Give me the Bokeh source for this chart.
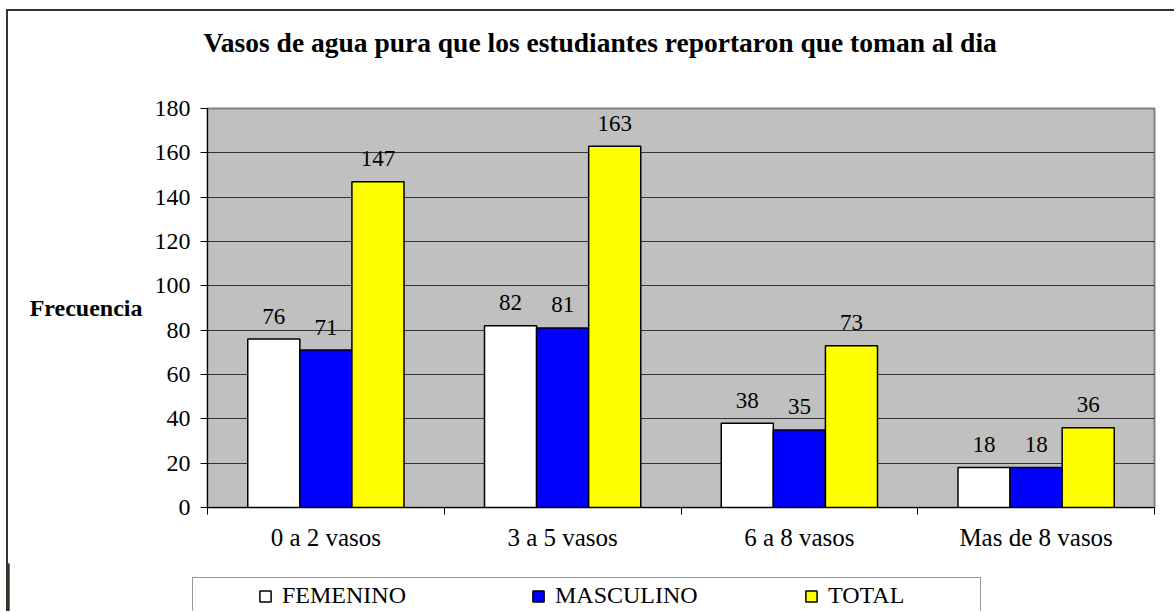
from bokeh.plotting import figure
from bokeh.models import (ColumnDataSource, FixedTicker, Legend, LegendItem, Title, Range1d,
                          LinearAxis)
from bokeh.layouts import column
from bokeh.embed import file_html
from bokeh.resources import INLINE
from bokeh.core.properties import value

# ---- data ----
categories = ["0 a 2 vasos", "3 a 5 vasos", "6 a 8 vasos", "Mas de 8 vasos"]
femenino = [76, 82, 38, 18]
masculino = [71, 81, 35, 18]
total = [147, 163, 73, 36]
series_names = ["FEMENINO", "MASCULINO", "TOTAL"]
series_colors = ["#FFFFFF", "#0000FF", "#FFFF00"]
y_ticks = [0, 20, 40, 60, 80, 100, 120, 140, 160, 180]
title_text = "Vasos de agua pura que los estudiantes reportaron que toman al dia"
y_label = "Frecuencia"

FONT = "Liberation Serif"
W = 1166

p = figure(width=W, height=552, x_range=Range1d(0, len(categories)), y_range=Range1d(0, 180),
           output_backend="svg", toolbar_location=None, title=None,
           min_border_left=199, min_border_top=97, min_border_right=20, min_border_bottom=56)
p.background_fill_color = "#C0C0C0"
p.border_fill_color = "white"
p.outline_line_color = "#808080"
p.outline_line_width = 2

centers = [i + 0.5 for i in range(len(categories))]
offsets = [-0.22, 0.0, 0.22]
bw = 0.22

for vals, color, off in zip([femenino, masculino, total], series_colors, offsets):
    src = ColumnDataSource(dict(x=[c + off for c in centers], top=vals, label=[str(v) for v in vals]))
    p.vbar(x="x", top="top", bottom=0, width=bw, fill_color=color, line_color="black",
           line_width=1.5, source=src)
    p.text(x="x", y="top", text="label", text_align="center", text_baseline="alphabetic",
           y_offset=-23, text_font=value(FONT), text_font_size="23px", text_color="black", source=src)

# x axis: labels at centers, ticks at boundaries
p.xaxis.ticker = FixedTicker(ticks=centers, minor_ticks=list(range(len(categories) + 1)))
p.xaxis.major_label_overrides = {c: cat for c, cat in zip(centers, categories)}
p.xaxis.major_tick_out = 0
p.xaxis.major_tick_in = 0
p.xaxis.minor_tick_out = 7
p.xaxis.minor_tick_in = 0
p.xaxis.minor_tick_line_color = "black"
p.xaxis.major_label_standoff = 9
p.xaxis.major_label_text_font = FONT
p.xaxis.major_label_text_font_size = "25px"
p.xaxis.major_label_text_color = "black"
p.xaxis.axis_line_color = "black"

p.yaxis.ticker = FixedTicker(ticks=y_ticks)
p.yaxis.major_tick_out = 7
p.yaxis.major_tick_in = 0
p.yaxis.minor_tick_line_color = None
p.yaxis.major_label_standoff = 10
p.yaxis.major_label_text_font = FONT
p.yaxis.major_label_text_font_size = "24px"
p.yaxis.major_label_text_color = "black"
p.yaxis.axis_line_color = "black"
p.yaxis.major_tick_line_color = "black"

# "Frecuencia" as a horizontal label on an extra left axis
ylab_axis = LinearAxis(ticker=FixedTicker(ticks=[90]), major_label_overrides={90: y_label},
                       axis_line_color=None, major_tick_line_color=None, minor_tick_line_color=None,
                       major_tick_out=0, major_tick_in=0, minor_tick_out=0, minor_tick_in=0,
                       major_label_standoff=9, major_label_text_font=FONT,
                       major_label_text_font_size="24px", major_label_text_font_style="bold",
                       major_label_text_color="black")
p.add_layout(ylab_axis, "left")

p.xgrid.grid_line_color = None
p.ygrid.ticker = FixedTicker(ticks=y_ticks[1:-1])
p.ygrid.grid_line_color = "#333333"
p.ygrid.grid_line_width = 1

# spacer (closest to frame), then the title above it
p.add_layout(Title(text=" ", text_font_size="1px", standoff=48), "above")
p.add_layout(Title(text=title_text, align="left", offset=-4, standoff=0, text_font=FONT,
                   text_font_size="27.5px", text_font_style="bold", text_color="black"), "above")

# legend strip below the chart
pl = figure(width=W, height=48, x_range=Range1d(0, 1), y_range=Range1d(0, 1),
            output_backend="svg", toolbar_location=None, title=None,
            min_border=0, min_border_left=0, min_border_right=0, min_border_top=0,
            min_border_bottom=0, x_axis_type=None, y_axis_type=None)
pl.outline_line_color = None
pl.background_fill_color = "white"
pl.border_fill_color = "white"

legend_x = -15
try:
    pl.frame_align = False
    p.frame_align = False
    legend_x = 184
except AttributeError:
    pass

items = []
for name, color in zip(series_names, series_colors):
    # legend swatch renderer: one bar placed outside the visible range of the strip
    r = pl.vbar(x=[-5], top=[1], width=0.1, fill_color=color, line_color="black", line_width=1.5)
    items.append(LegendItem(label=name, renderers=[r]))
legend = Legend(items=items, orientation="horizontal", location=(legend_x, -3), padding=4,
                spacing=101, label_width=148, glyph_width=14, glyph_height=14, label_standoff=10,
                label_text_font=FONT, label_text_font_size="24px", label_text_color="black",
                border_line_color="#333333", border_line_width=1, background_fill_color="white",
                background_fill_alpha=1, margin=0, title=" ", title_location="left",
                title_standoff=60, title_text_font_size="1px")
pl.add_layout(legend, "center")

layout = column(p, pl, spacing=0)
layout.styles = {"margin-left": "6px", "margin-top": "9px",
                 "border-left": "2px solid #333", "border-top": "2px solid #333"}
open("out.html", "w").write(file_html(layout, INLINE))
